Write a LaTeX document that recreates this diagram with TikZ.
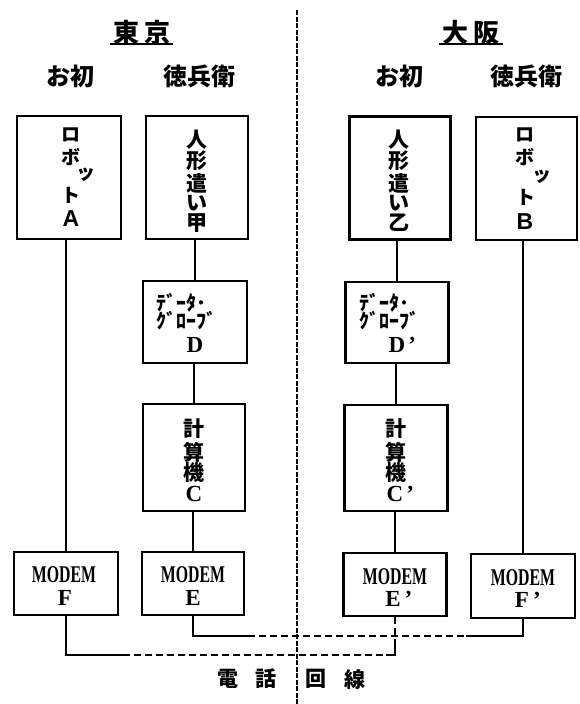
\documentclass[tikz,border=0pt]{standalone}
\usepackage{fontspec}
\newfontfamily\jp{Noto Sans CJK JP}
\newfontfamily\lsans{Liberation Sans}
\newfontfamily\lserif{Liberation Serif}[Ligatures=TeX]
\tikzset{
 box/.style 2 args={draw, line width=2.4pt, minimum width=#1pt, minimum height=#2pt, inner sep=0pt},
 wire/.style={line width=2pt},
 phone/.style={line width=2pt, dash pattern=on 7pt off 4pt},
 divider/.style={line width=2.2pt, dash pattern=on 5pt off 1.5pt},
 kana/.style={inner sep=0pt, font=\jp\bfseries\fontsize{19}{19}\selectfont},
 kanji/.style={inner sep=0pt, font=\jp\bfseries\fontsize{21}{21}\selectfont},
 hkana/.style={inner sep=0pt, anchor=west, font=\jp\bfseries\fontsize{20}{20}\selectfont},
 head/.style={inner sep=0pt, font=\jp\bfseries\fontsize{24}{24}\selectfont},
 title/.style={inner sep=0pt, font=\jp\bfseries\fontsize{26}{26}\selectfont},
 latin/.style={inner sep=0pt, font=\lserif\bfseries\fontsize{23}{23}\selectfont},
 sanslet/.style={inner sep=0pt, font=\lsans\bfseries\fontsize{23}{23}\selectfont},
 modem/.style={inner sep=0pt, font=\lserif\bfseries\fontsize{24}{24}\selectfont},
 uline/.style={line width=1.8pt},
}
\begin{document}
\begin{tikzpicture}[x=1pt,y=-1pt]
\useasboundingbox (0,0) rectangle (579,704);

% titles
\node[title] (tokyo) at (142,33) {東\hspace{6pt}京};
\node[title] (osaka) at (471,33) {大\hspace{6pt}阪};
\draw[uline] (110,44) -- (173,44);
\draw[uline] (439,44) -- (503,44);
\node[head] (h1) at (70,76) {お初};
\node[head] (h2) at (199,76) {徳兵衛};
\node[head] (h3) at (399,76) {お初};
\node[head] (h4) at (526,76) {徳兵衛};

% divider
\coordinate (divtop) at (297,10);
\coordinate (divbot) at (297,704);
\draw[divider] (divtop) -- (divbot);

% boxes
\node[box={104}{123}] (A) at (69,177.5) {};
\node[box={102}{123}] (P1) at (197,177.5) {};
\node[box={101}{123}] (P2) at (400,178) {};
\node[box={101}{123}] (B) at (526.5,178.5) {};
\node[box={104}{82}] (D1) at (195,322) {};
\node[box={103}{81}] (D2) at (397,322.5) {};
\node[box={102}{107}] (C1) at (194,457.5) {};
\node[box={103}{106}] (C2) at (396,458) {};
\node[box={104}{63}] (F) at (66,583.5) {};
\node[box={102}{63}] (E) at (193,583.5) {};
\node[box={103}{63}] (E2) at (395,584.5) {};
\node[box={104}{64}] (F2) at (523,586) {};

% vertical connectors
\draw[wire] (A.south -| F.north) -- (F.north);
\draw[wire] (P1.south -| D1.north) -- (D1.north);
\draw[wire] (D1.south -| C1.north) -- (C1.north);
\draw[wire] (C1.south -| E.north) -- (E.north);
\draw[wire] (P2.south -| D2.north) -- (D2.north);
\draw[wire] (D2.south -| C2.north) -- (C2.north);
\draw[wire] (C2.south -| E2.north) -- (E2.north);
\draw[wire] (B.south -| F2.north) -- (F2.north);

% telephone lines
\coordinate (lowY) at (0,655);
\coordinate (highY) at (0,636);
\draw[wire] (F.south) |- (123,655) coordinate (fb);
\draw[phone] (fb) -- (386,655) coordinate (fc);
\draw[wire] (fc) -- (E2.south |- lowY) -- ++(0,-9) coordinate (fd);
\draw[phone] (fd) -- (E2.south);
\draw[wire] (E.south) |- (248,636) coordinate (ea);
\draw[phone] (ea) -- (466,636) coordinate (eb);
\draw[wire] (eb) -| (F2.south);

% robot A
\foreach \ch/\xx/\yy [count=\k] in {ロ/71/135, ボ/71/157, ッ/86/175, ト/71/195}
  \node[kana] (ta\k) at (\xx,\yy) {\ch};
\node[sanslet] (ta5) at (71,219) {A};
% robot B
\foreach \ch/\xx/\yy [count=\k] in {ロ/525/135, ボ/525/157, ッ/542/177, ト/526/197}
  \node[kana] (tb\k) at (\xx,\yy) {\ch};
\node[sanslet] (tb5) at (525,222) {B};
% puppeteers
\foreach \ch/\yy [count=\k] in {人/140, 形/161, 遣/183, い/203, 甲/223}
  \node[kanji] (tp\k) at (197,\yy) {\ch};
\foreach \ch/\yy [count=\k] in {人/140, 形/161, 遣/183, い/203, 乙/223}
  \node[kanji] (tq\k) at (399,\yy) {\ch};
% data gloves
\node[hkana] (dg1) at (156,303) {ﾃﾞｰﾀ･};
\node[hkana] (dg2) at (156,321) {ｸﾞﾛｰﾌﾞ};
\node[latin] (dg3) at (195,345) {D};
\node[hkana] (dh1) at (359,303) {ﾃﾞｰﾀ･};
\node[hkana] (dh2) at (359,321) {ｸﾞﾛｰﾌﾞ};
\node[latin] (dh3) at (397,345) {D\rlap{\hspace{3pt}'}};
% computers
\foreach \ch/\yy [count=\k] in {計/429, 算/452, 機/473}
  \node[kanji] (tc\k) at (194,\yy) {\ch};
\node[latin] (tc4) at (194,494) {C};
\foreach \ch/\yy [count=\k] in {計/429, 算/452, 機/473}
  \node[kanji] (td\k) at (396,\yy) {\ch};
\node[latin] (td4) at (395,494) {C\rlap{\hspace{3pt}'}};
% modems
\node[modem] (mf1) at (64,575) {\scalebox{0.66}[1]{MODEM}};
\node[latin] (mf2) at (65,598) {F};
\node[modem] (me1) at (193,575) {\scalebox{0.66}[1]{MODEM}};
\node[latin] (me2) at (193,598) {E};
\node[modem] (mg1) at (395,577) {\scalebox{0.66}[1]{MODEM}};
\node[latin] (mg2) at (393,599) {E\rlap{\hspace{4pt}'}};
\node[modem] (mh1) at (523,578) {\scalebox{0.66}[1]{MODEM}};
\node[latin] (mh2) at (522,600) {F\rlap{\hspace{4pt}'}};

% bottom label
\node[kanji] (w1) at (228,679) {電};
\node[kanji] (w2) at (266,679) {話};
\node[kanji] (w3) at (316,679) {回};
\node[kanji] (w4) at (355,679) {線};
\end{tikzpicture}
\end{document}
